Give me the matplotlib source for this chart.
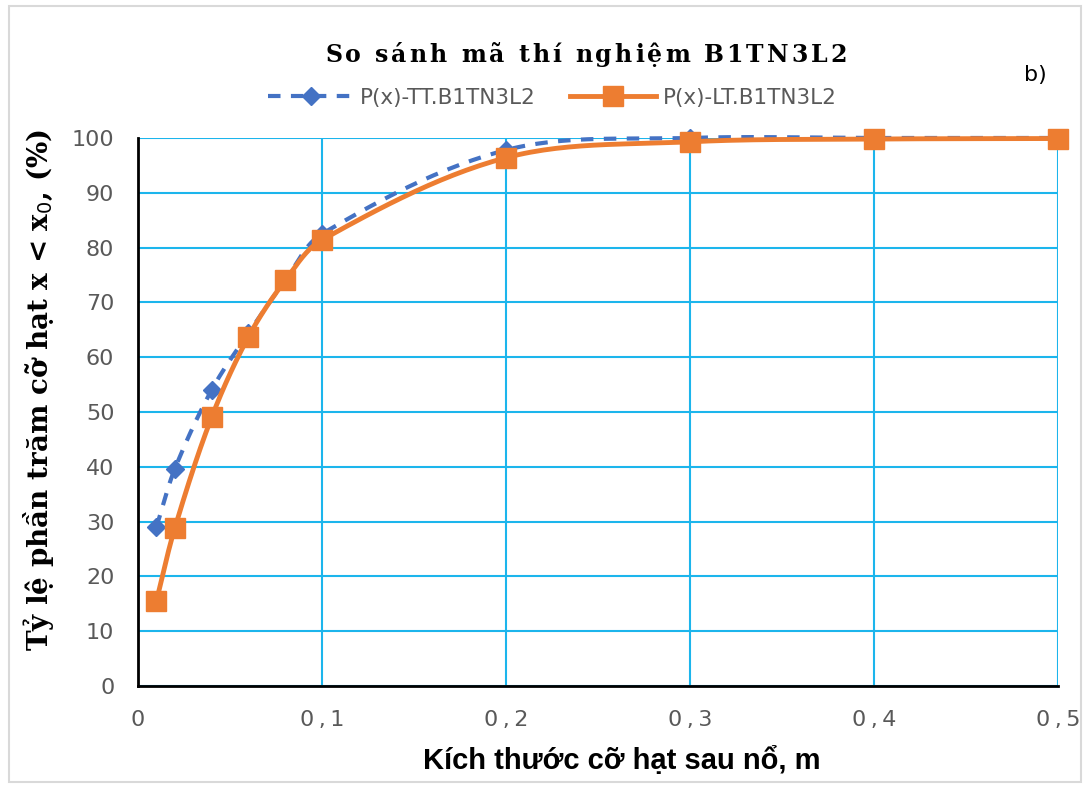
import numpy as np
import matplotlib.pyplot as plt
from matplotlib.patches import Rectangle

# du lieu doc tu hinh
x_tt = [0.01, 0.02, 0.04, 0.06, 0.08, 0.1, 0.2, 0.3, 0.4, 0.5]
p_tt = [29.0, 39.6, 54.0, 64.4, 74.0, 82.5, 97.8, 100.0, 100.0, 100.0]
x_lt = [0.01, 0.02, 0.04, 0.06, 0.08, 0.1, 0.2, 0.3, 0.4, 0.5]
p_lt = [15.5, 28.8, 49.0, 63.7, 74.0, 81.4, 96.4, 99.3, 99.8, 99.9]
xticks = [0, 0.1, 0.2, 0.3, 0.4, 0.5]
xticklabels = ['0', '0\u2009,\u20091', '0\u2009,\u20092', '0\u2009,\u20093',
               '0\u2009,\u20094', '0\u2009,\u20095']
yticks = list(range(0, 101, 10))
tieu_de = 'So sánh mã thí nghiệm B1TN3L2'


def duong_muot(x, y, sx=0.5 / 920, sy=100 / 548, n=30):
    # duong cong muot kieu Excel (Bezier) tinh theo pixel, chi dung de ve
    x = np.asarray(x, float) / sx
    y = np.asarray(y, float) / sy
    px = np.concatenate([[x[0]], x, [x[-1]]])
    py = np.concatenate([[y[0]], y, [y[-1]]])
    xs, ys = [], []
    t = np.linspace(0, 1, n)
    for i in range(1, len(px) - 2):
        d12 = np.hypot(px[i+1] - px[i], py[i+1] - py[i])
        # tiep tuyen don vi
        a = np.array([px[i+1] - px[i-1], py[i+1] - py[i-1]])
        b = np.array([px[i+2] - px[i], py[i+2] - py[i]])
        a = a / max(np.hypot(*a), 1e-9)
        b = b / max(np.hypot(*b), 1e-9)
        k = d12 / 3
        c1x, c1y = px[i] + a[0] * k, py[i] + a[1] * k
        c2x, c2y = px[i+1] - b[0] * k, py[i+1] - b[1] * k
        bx = (1-t)**3*px[i] + 3*(1-t)**2*t*c1x + 3*(1-t)*t**2*c2x + t**3*px[i+1]
        by = (1-t)**3*py[i] + 3*(1-t)**2*t*c1y + 3*(1-t)*t**2*c2y + t**3*py[i+1]
        xs.extend(bx)
        ys.extend(by)
    return np.array(xs) * sx, np.array(ys) * sy


fig = plt.figure(figsize=(10.89, 7.88), dpi=100)
ax = fig.add_axes([0.1267, 0.1294, 0.8448, 0.6955])

xa, ya = duong_muot(x_tt, p_tt)
ax.plot(xa, ya, color='#4472C4', lw=3, ls=(0, (3, 2.5)), zorder=3, clip_on=False)
ax.plot(x_tt, p_tt, ls='none', marker='D', ms=9, color='#4472C4', zorder=3, clip_on=False)
xb, yb = duong_muot(x_lt, p_lt)
ax.plot(xb, yb, color='#ED7D31', lw=3.5, zorder=4, clip_on=False)
ax.plot(x_lt, p_lt, ls='none', marker='s', ms=14, color='#ED7D31', zorder=4, clip_on=False)

# legend
ax.plot([], [], color='#4472C4', lw=3, ls=(0, (3, 2.5)), marker='D', ms=9,
        label='P(x)-TT.B1TN3L2')
ax.plot([], [], color='#ED7D31', lw=3.5, marker='s', ms=14,
        label='P(x)-LT.B1TN3L2')
leg = fig.legend(loc='center', bbox_to_anchor=(0.507, 0.876), ncol=2, frameon=False,
                 prop={'family': 'DejaVu Sans', 'size': 15.5}, handlelength=4.0,
                 columnspacing=1.6, handletextpad=0.3)
for t in leg.get_texts():
    t.set_color('#595959')

ax.set_xlim(0, 0.5)
ax.set_ylim(0, 100)
ax.set_xticks(xticks)
ax.set_xticklabels(xticklabels)
ax.set_yticks(yticks)
ax.grid(True, color='#1CB5EC', lw=1.5, zorder=0)
ax.set_axisbelow(True)
for s in ['top', 'right']:
    ax.spines[s].set_visible(False)
for s in ['left', 'bottom']:
    ax.spines[s].set_color('black')
    ax.spines[s].set_linewidth(2)
ax.tick_params(length=0, labelsize=16, labelcolor='#595959')
ax.tick_params(axis='y', pad=17)
ax.tick_params(axis='x', pad=17)
for lab in ax.get_xticklabels() + ax.get_yticklabels():
    lab.set_family('DejaVu Sans')

ax.set_xlabel('Kích thước cỡ hạt sau nổ, m', fontsize=21, fontweight='bold',
              family='Liberation Sans')
ax.xaxis.set_label_coords(0.526, -0.110)
ax.set_ylabel('Tỷ lệ phần trăm cỡ hạt x < x$_0$, (%)', fontsize=20,
              fontweight='bold', family='DejaVu Serif')
ax.yaxis.set_label_coords(-0.089, 0.54)

# tieu de co gian chu (letter spacing)
r = fig.canvas.get_renderer()
tracking = 3.0
chars = []
tong = 0
for ch in tieu_de:
    tt = fig.text(0, 0, ch, fontsize=17, fontweight='bold', family='DejaVu Serif')
    w = tt.get_window_extent(r).width if ch != ' ' else 8
    if ch == ' ':
        tt.remove()
        tt = None
    chars.append((tt, w))
    tong += w + tracking
tong -= tracking
x0 = 586 - tong / 2
for tt, w in chars:
    if tt is not None:
        tt.set_position((x0 / 1089, 1 - 55 / 788))
        tt.set_va('center')
    x0 += w + tracking

fig.text(0.951, 0.905, 'b)', ha='center', va='center', fontsize=16,
         family='DejaVu Sans')

fig.patches.append(Rectangle((0.008, 0.008), 0.985, 0.984, transform=fig.transFigure,
                             fill=False, edgecolor='#D9D9D9', lw=1.5))

fig.savefig('out.png', dpi=100)
